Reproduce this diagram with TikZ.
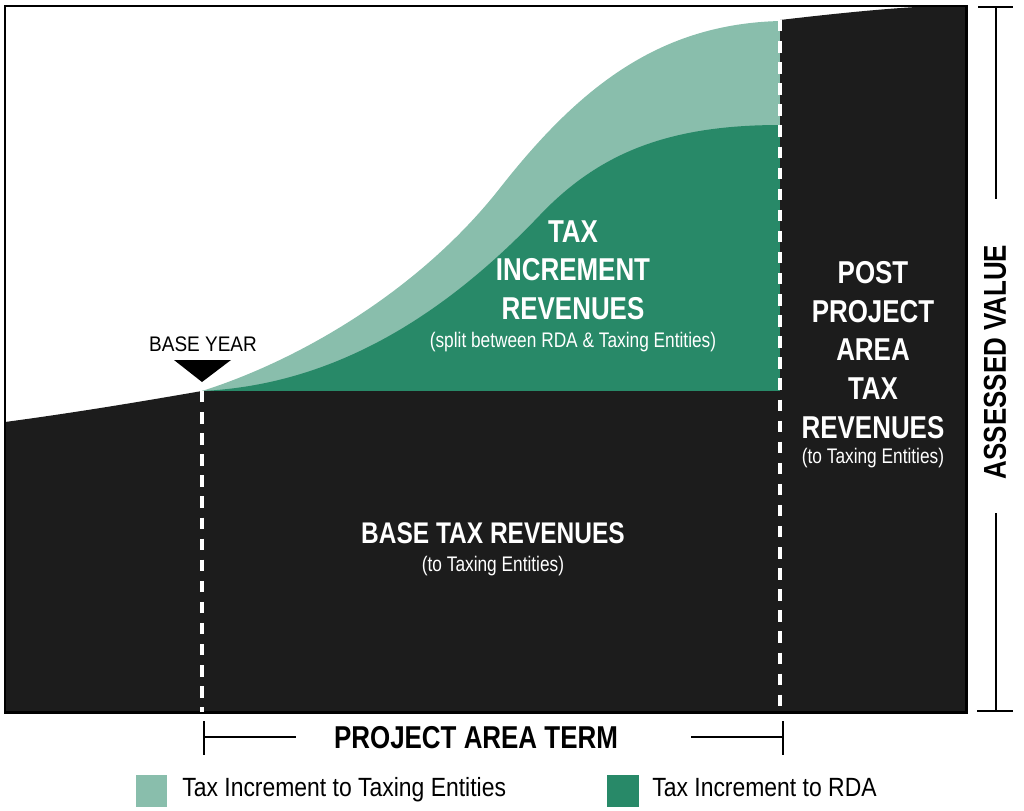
\documentclass[tikz,border=0pt]{standalone}
\usepackage{fontspec}
\setmainfont{Liberation Sans}
\newfontfamily\condfont[FakeStretch=0.82]{Liberation Sans}
\newfontfamily\legendfont[FakeStretch=0.87]{Liberation Sans}
\newfontfamily\yearfont[FakeStretch=0.9]{Liberation Sans}
\usetikzlibrary{positioning}
\definecolor{incLight}{HTML}{89BEAC}
\definecolor{incDark}{HTML}{288968}
\definecolor{baseBlack}{HTML}{1C1C1C}
\tikzset{
    bigLabel/.style = {text = white, font = \condfont\bfseries\fontsize{18}{22}\selectfont, align = center, inner sep = 0pt},
    smallLabel/.style = {text = white, font = \condfont\fontsize{12}{14}\selectfont, inner sep = 0pt},
    termLine/.style = {white, line width = 2pt, dash pattern = on 6.5pt off 5.5pt},
    scaleLine/.style = {black, line width = 1.1pt},
    legendText/.style = {font = \legendfont\fontsize{15}{18}\selectfont, anchor = base west, inner sep = 0pt}
}

\begin{document}
\begin{tikzpicture}[x = 0.02cm, y = -0.02cm]
        \useasboundingbox (0, 0) rectangle (1024, 811);
        \coordinate (base) at (202, 391);
        \coordinate (baseFoot) at (202, 712);
        \coordinate (termTop) at (780, 20);
        \coordinate (termFoot) at (780, 712);
        % assessed value areas
        \fill[incLight] (base) .. controls (300, 360) and (420, 290) .. (500, 188) .. controls (580, 86) and (660, 24) .. (780, 21) -- (780, 391) -- cycle;
        \fill[incDark] (base) .. controls (330, 385) and (440, 320) .. (540, 215) .. controls (600, 152) and (670, 125) .. (780, 125) -- (780, 391) -- cycle;
        \fill[baseBlack] (5, 422) .. controls (80, 412) and (150, 400) .. (base) -- (780, 391) -- (termTop) .. controls (840, 13) and (890, 8) .. (935, 6) -- (966, 6) -- (966, 712) -- (5, 712) -- cycle;
        \draw[black, line width = 1.7pt] (5, 6) rectangle (966, 712);
        \draw[termLine] (base) -- (baseFoot);
        \draw[termLine] (termTop) -- (termFoot);
        % base year marker
        \fill[black] (174, 360) -- (231, 360) -- (202, 382) -- cycle;
        \node (baseYear) at (203, 344) [font = \yearfont\fontsize{12}{14}\selectfont, inner sep = 0pt] {BASE YEAR};
        % labels
        \node (incTitle) at (573, 270) [bigLabel] {TAX\\INCREMENT\\REVENUES};
        \node (incNote) [smallLabel, below = 7pt of incTitle] {(split between RDA \& Taxing Entities)};
        \node (baseTitle) at (493, 533) [bigLabel, font = \condfont\bfseries\fontsize{17}{20}\selectfont] {BASE TAX REVENUES};
        \node (baseNote) [smallLabel, below = 7pt of baseTitle] {(to Taxing Entities)};
        \node (postTitle) at (873, 350) [bigLabel] {POST\\PROJECT\\AREA\\TAX\\REVENUES};
        \node (postNote) [smallLabel, below = 5pt of postTitle] {(to Taxing Entities)};
        % assessed value scale
        \node (axisLabel) at (995, 362) [rotate = 90, font = \condfont\bfseries\fontsize{18}{22}\selectfont, inner sep = 0pt] {ASSESSED VALUE};
        \coordinate (axisTop) at (996, 7);
        \coordinate (axisFoot) at (996, 711);
        \draw[scaleLine] (axisTop) -- (996, 199);
        \draw[scaleLine] (996, 513) -- (axisFoot);
        \draw[scaleLine] (978, 7) -- (1013, 7);
        \draw[scaleLine] (977, 711) -- (1013, 711);
        % project area term
        \node (term) at (476, 738) [font = \condfont\bfseries\fontsize{18}{22}\selectfont, inner sep = 0pt] {PROJECT AREA TERM};
        \coordinate (termLeft) at (204, 737);
        \coordinate (termRight) at (783, 737);
        \draw[scaleLine] (204, 721) -- (204, 755);
        \draw[scaleLine] (termLeft) -- (296, 737);
        \draw[scaleLine] (691, 737) -- (termRight);
        \draw[scaleLine] (783, 721) -- (783, 755);
        % legend
        \fill[incLight] (136, 775) rectangle (167, 807);
        \node (legendLight) at (182, 796) [legendText] {Tax Increment to Taxing Entities};
        \fill[incDark] (607, 775) rectangle (639, 807);
        \node (legendDark) at (652, 796) [legendText] {Tax Increment to RDA};
    \end{tikzpicture}
\end{document}
